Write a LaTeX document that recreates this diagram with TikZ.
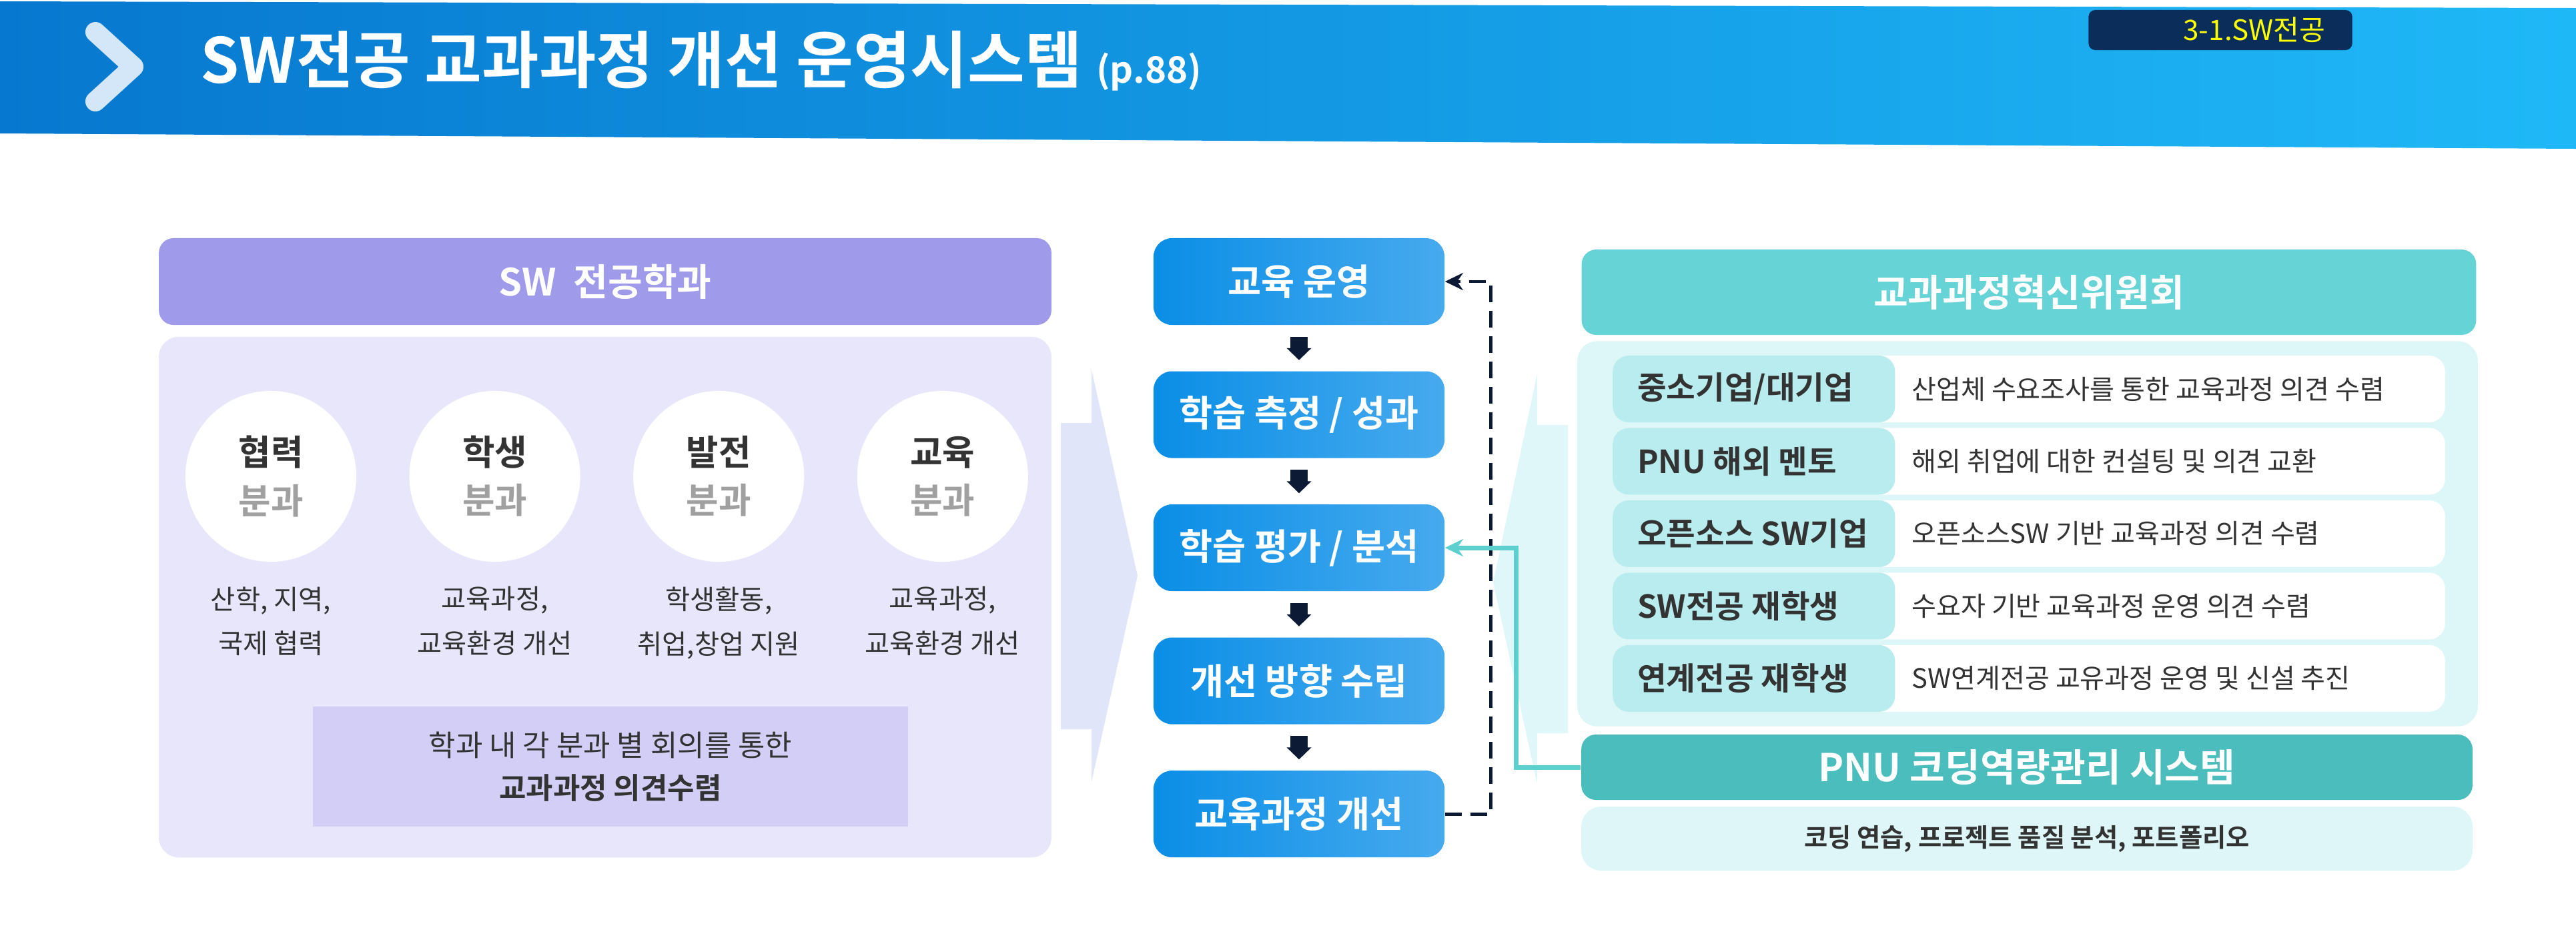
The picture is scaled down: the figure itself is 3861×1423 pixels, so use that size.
\documentclass[tikz,border=0pt]{standalone}
\usepackage{fontspec}
\setmainfont{Noto Sans CJK KR}[BoldFont={Noto Sans CJK KR Bold}]
\usetikzlibrary{arrows.meta, positioning}
\definecolor{bannerdark}{HTML}{0778CF}
\definecolor{bannerlight}{HTML}{1FB8F7}
\definecolor{chevron}{HTML}{D3E7F8}
\definecolor{tagnavy}{HTML}{0B2D5A}
\definecolor{tagyellow}{HTML}{FFFF00}
\definecolor{deptpurple}{HTML}{A09AEA}
\definecolor{deptbg}{HTML}{E8E6FB}
\definecolor{notebg}{HTML}{D2CEF5}
\definecolor{lilacarrow}{HTML}{E0E5FA}
\definecolor{flowleft}{HTML}{0A8EE6}
\definecolor{flowright}{HTML}{47AAEE}
\definecolor{navyink}{HTML}{0C1A36}
\definecolor{tealline}{HTML}{5DCFCF}
\definecolor{committee}{HTML}{66D3D6}
\definecolor{committeebg}{HTML}{DDF6F7}
\definecolor{rowcyan}{HTML}{B9ECEE}
\definecolor{cyanarrow}{HTML}{DFF7F8}
\definecolor{pnuteal}{HTML}{4BBDBD}
\definecolor{pnubg}{HTML}{DEF6F7}
\definecolor{inkgray}{HTML}{333333}
\definecolor{softgray}{HTML}{A0A0A0}
\newcommand{\setfs}[2]{\fontsize{#1}{#2}\selectfont}

\begin{document}
\begin{tikzpicture}[
    x=0.01cm, y=-0.01cm,
    node distance=0.68cm,
    header/.style={rectangle, rounded corners=0.22cm, text=white, font=\bfseries\setfs{16}{19}, inner sep=0pt},
    panel/.style={rectangle, rounded corners=0.3cm, inner sep=0pt},
    flowbox/.style={rectangle, rounded corners=0.28cm, left color=flowleft, right color=flowright, text=white, font=\bfseries\setfs{15.5}{18}, minimum width=4.36cm, minimum height=1.3cm, inner sep=0pt},
    unit/.style={circle, fill=white, minimum size=2.56cm, inner sep=0pt, align=center, text=inkgray, font=\bfseries\setfs{15}{20.5}},
    unitnote/.style={align=center, text=inkgray, font=\setfs{11.5}{19}, inner sep=0pt},
    rowbox/.style={rectangle, rounded corners=0.24cm, fill=white, minimum width=12.47cm, minimum height=1cm, inner sep=0pt,
        path picture={\fill[rowcyan] (path picture bounding box.north west) rectangle ([xshift=4.23cm]path picture bounding box.south west);}},
    rowlabel/.style={anchor=west, text=inkgray, font=\bfseries\setfs{13.5}{16}, inner sep=0pt},
    rowtext/.style={anchor=west, text=inkgray, font=\setfs{11.4}{14}, inner sep=0pt},
    flowarrow/.style={-{Triangle[width=0.36cm, length=0.18cm]}, line width=0.26cm, draw=navyink, shorten <=0.17cm, shorten >=0.16cm},
    feedback/.style={-{Stealth[length=0.27cm, width=0.26cm]}, line width=1.4pt, draw=navyink, dash pattern=on 0.25cm off 0.13cm},
    linkarrow/.style={-{Stealth[length=0.27cm, width=0.26cm]}, line width=2pt, draw=tealline}
]
    \useasboundingbox (0,0) rectangle (3861,1423);

    % title banner
    \shade[left color=bannerdark, middle color=bannerdark!80!bannerlight, right color=bannerlight] (0,2) -- (3861,12) -- (3861,223) -- (0,200) -- cycle;
    \draw[line width=0.3cm, line cap=round, line join=round, draw=chevron] (143,48) -- (200,100) -- (143,152);
    \node[anchor=base west, text=white, inner sep=0pt, font=\bfseries\setfs{26.5}{30}] (title) at (300,124) {SW전공 교과과정 개선 운영시스템 {\setfs{15.5}{18}(p.88)}};
    \node[fill=tagnavy, rounded corners=0.1cm, text=tagyellow, font=\setfs{12}{14}, text width=3.15cm, align=right, inner xsep=0.4cm, inner ysep=0pt, minimum height=0.6cm] (tag) at (3328,45) {3-1.SW전공};

    % department panel
    \node[header, fill=deptpurple, minimum width=13.37cm, minimum height=1.3cm] (depthdr) at (907,422) {SW\ \ 전공학과};
    \node[panel, fill=deptbg, minimum width=13.37cm, minimum height=7.8cm] (deptbody) at (907,895) {};

    \node[unit] (u1) at (406,714) {협력\\\textcolor{softgray}{분과}};
    \node[unit, right=0.78cm of u1] (u2) {학생\\\textcolor{softgray}{분과}};
    \node[unit, right=0.78cm of u2] (u3) {발전\\\textcolor{softgray}{분과}};
    \node[unit, right=0.78cm of u3] (u4) {교육\\\textcolor{softgray}{분과}};

    \node[unitnote, below=0.36cm of u1] (n1) {산학, 지역,\\국제 협력};
    \node[unitnote, below=0.36cm of u2] (n2) {교육과정,\\교육환경 개선};
    \node[unitnote, below=0.36cm of u3] (n3) {학생활동,\\취업,창업 지원};
    \node[unitnote, below=0.36cm of u4] (n4) {교육과정,\\교육환경 개선};

    \node[rectangle, fill=notebg, minimum width=8.92cm, minimum height=1.8cm, align=center, text=inkgray, font=\setfs{12.5}{18.2}] (note) at (915,1149) {학과 내 각 분과 별 회의를 통한\\\textbf{교과과정 의견수렴}};

    % big arrows into the flow
    \fill[lilacarrow] (1590,634) -- (1636,634) -- (1636,554) -- (1705,863) -- (1636,1172) -- (1636,1093) -- (1590,1093) -- cycle;
    \fill[cyanarrow] (2350,637) -- (2304,637) -- (2304,560) -- (2238,873) -- (2304,1175) -- (2304,1099) -- (2350,1099) -- cycle;

    % flow column
    \node[flowbox] (b1) at (1947,422) {교육 운영};
    \node[flowbox, below=of b1] (b2) {학습 측정 / 성과};
    \node[flowbox, below=of b2] (b3) {학습 평가 / 분석};
    \node[flowbox, below=of b3] (b4) {개선 방향 수립};
    \node[flowbox, below=of b4] (b5) {교육과정 개선};

    % committee panel
    \node[header, fill=committee, minimum width=13.4cm, minimum height=1.28cm] (comhdr) at (3041,438) {교과과정혁신위원회};
    \node[panel, fill=committeebg, minimum width=13.49cm, minimum height=5.77cm] (combody) at (3039,800) {};

    \node[rowbox] (r1) at (3041,583) {};
    \node[rowbox, below=0.07cm of r1] (r2) {};
    \node[rowbox, below=0.07cm of r2] (r3) {};
    \node[rowbox, below=0.07cm of r3] (r4) {};
    \node[rowbox, below=0.07cm of r4] (r5) {};

    \node[rowlabel, right=0.37cm of r1.west] (l1) {중소기업/대기업};
    \node[rowlabel, right=0.37cm of r2.west] (l2) {PNU 해외 멘토};
    \node[rowlabel, right=0.37cm of r3.west] (l3) {오픈소스 SW기업};
    \node[rowlabel, right=0.37cm of r4.west] (l4) {SW전공 재학생};
    \node[rowlabel, right=0.37cm of r5.west] (l5) {연계전공 재학생};

    \node[rowtext, right=4.48cm of r1.west] (t1) {산업체 수요조사를 통한 교육과정 의견 수렴};
    \node[rowtext, right=4.48cm of r2.west] (t2) {해외 취업에 대한 컨설팅 및 의견 교환};
    \node[rowtext, right=4.48cm of r3.west] (t3) {오픈소스SW 기반 교육과정 의견 수렴};
    \node[rowtext, right=4.48cm of r4.west] (t4) {수요자 기반 교육과정 운영 의견 수렴};
    \node[rowtext, right=4.48cm of r5.west] (t5) {SW연계전공 교유과정 운영 및 신설 추진};

    % coding system
    \node[header, fill=pnuteal, minimum width=13.35cm, minimum height=0.98cm, font=\bfseries\setfs{16.3}{19}] (pnuhdr) at (3038,1150) {PNU 코딩역량관리 시스템};
    \node[panel, fill=pnubg, minimum width=13.35cm, minimum height=0.96cm, text=inkgray, font=\bfseries\setfs{10.9}{13}] (pnubody) at (3038,1257) {코딩 연습, 프로젝트 품질 분석, 포트폴리오};

    \draw[flowarrow] (b1) -- (b2);
    \draw[flowarrow] (b2) -- (b3);
    \draw[flowarrow] (b3) -- (b4);
    \draw[flowarrow] (b4) -- (b5);
    \draw[feedback] (b5.east) -- ++(69,0) |- (b1.east);
    \draw[linkarrow] (pnuhdr.west) -- ++(-97,0) |- (b3.east);
\end{tikzpicture}
\end{document}
